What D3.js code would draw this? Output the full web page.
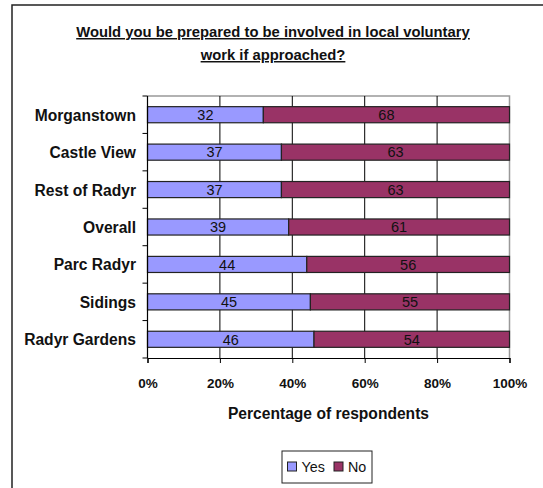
<!DOCTYPE html>
<html><head><meta charset="utf-8">
<script src="https://cdn.jsdelivr.net/npm/d3@7"></script>
<style>body{margin:0;background:#fff}svg{display:block}</style>
</head><body>
<svg id="c" width="543" height="488"></svg>
<script>
const categories = ["Morganstown","Castle View","Rest of Radyr","Overall","Parc Radyr","Sidings","Radyr Gardens"];
const yesValues = [32,37,37,39,44,45,46];
const noValues = [68,63,63,61,56,55,54];
const seriesNames = ["Yes","No"];
const seriesColors = ["#9999FF","#993366"];
const xTicks = [0,20,40,60,80,100];

(function(){
const svg = d3.select("#c");
const font = "Arial, 'Liberation Sans', sans-serif";

// outer frame
svg.append("rect").attr("x",12).attr("y",5).attr("width",560).attr("height",520)
  .attr("fill","none").attr("stroke","#222").attr("stroke-width",1.5);

// title
const title = svg.append("text").attr("x",273).attr("text-anchor","middle")
  .attr("font-family",font).attr("font-size",14.8).attr("font-weight","bold")
  .attr("text-decoration","underline").attr("fill","#111");
title.append("tspan").attr("x",273).attr("y",37).text("Would you be prepared to be involved in local voluntary");
title.append("tspan").attr("x",273).attr("y",60).text("work if approached?");

const pL=147.5, pR=509.5, pT=96, pB=358;
const x = d3.scaleLinear().domain([0,100]).range([pL,pR]);
const y = d3.scaleBand().domain(categories).range([pT,pB]).paddingInner(0.57).paddingOuter(0.285);

// plot border (gray top/right)
svg.append("path").attr("d",`M${pL},${pT}H${pR}V${pB}`).attr("fill","none").attr("stroke","#999").attr("stroke-width",1.5);

// gridlines
svg.append("g").selectAll("line").data(xTicks.slice(1,-1)).join("line")
  .attr("x1",d=>x(d)).attr("x2",d=>x(d)).attr("y1",pT).attr("y2",pB)
  .attr("stroke","#000").attr("stroke-width",1);

// bars
const rows = categories.map((c,i)=>({c, vals:[yesValues[i],noValues[i]]}));
const g = svg.append("g");
rows.forEach(r=>{
  let acc=0;
  r.vals.forEach((v,si)=>{
    const x0=x(acc), x1=x(acc+v);
    g.append("rect").attr("x",x0).attr("y",y(r.c)).attr("width",x1-x0).attr("height",y.bandwidth())
      .attr("fill",seriesColors[si]).attr("stroke","#222").attr("stroke-width",1.2);
    g.append("text").attr("x",(x0+x1)/2).attr("y",y(r.c)+y.bandwidth()/2+5.3)
      .attr("text-anchor","middle").attr("font-family",font).attr("font-size",14.5).attr("fill","#111").text(v);
    acc+=v;
  });
});

// y axis
const step = (pB-pT)/categories.length;
const yAxis = svg.append("g");
yAxis.append("line").attr("x1",pL).attr("x2",pL).attr("y1",pT).attr("y2",pB).attr("stroke","#000").attr("stroke-width",1.2);
d3.range(categories.length+1).forEach(i=>{
  yAxis.append("line").attr("x1",pL-5).attr("x2",pL).attr("y1",pT+i*step).attr("y2",pT+i*step).attr("stroke","#000");
});
yAxis.selectAll("text").data(categories).join("text")
  .attr("x",136).attr("y",d=>y(d)+y.bandwidth()/2+6).attr("text-anchor","end")
  .attr("font-family",font).attr("font-size",15.6).attr("font-weight","bold").attr("fill","#111").text(d=>d);

// x axis
const xAxis = d3.axisBottom(x).tickValues(xTicks).tickSize(5).tickFormat(d=>d+"%");
const xg = svg.append("g").attr("transform",`translate(0,${pB})`).call(xAxis);
xg.select(".domain").attr("stroke","#000").attr("stroke-width",1.2);
xg.selectAll(".tick line").attr("stroke","#000");
xg.selectAll("text").attr("font-family",font).attr("font-size",13.5).attr("font-weight","bold")
  .attr("fill","#111").attr("dy",0).attr("y",30);

svg.append("text").attr("x",(pL+pR)/2).attr("y",419).attr("text-anchor","middle")
  .attr("font-family",font).attr("font-size",15.6).attr("font-weight","bold").attr("fill","#111").text("Percentage of respondents");

// legend
const lg = svg.append("g");
lg.append("rect").attr("x",282).attr("y",451).attr("width",90).attr("height",32).attr("fill","#fff").attr("stroke","#222").attr("stroke-width",1);
const lx=[287.5,334];
seriesNames.forEach((n,i)=>{
  lg.append("rect").attr("x",lx[i]).attr("y",462).attr("width",9).attr("height",9).attr("fill",seriesColors[i]).attr("stroke","#222");
  lg.append("text").attr("x",lx[i]+14).attr("y",472).attr("font-family",font).attr("font-size",14.3).attr("fill","#111").text(n);
});
})();
</script>
</body></html>
